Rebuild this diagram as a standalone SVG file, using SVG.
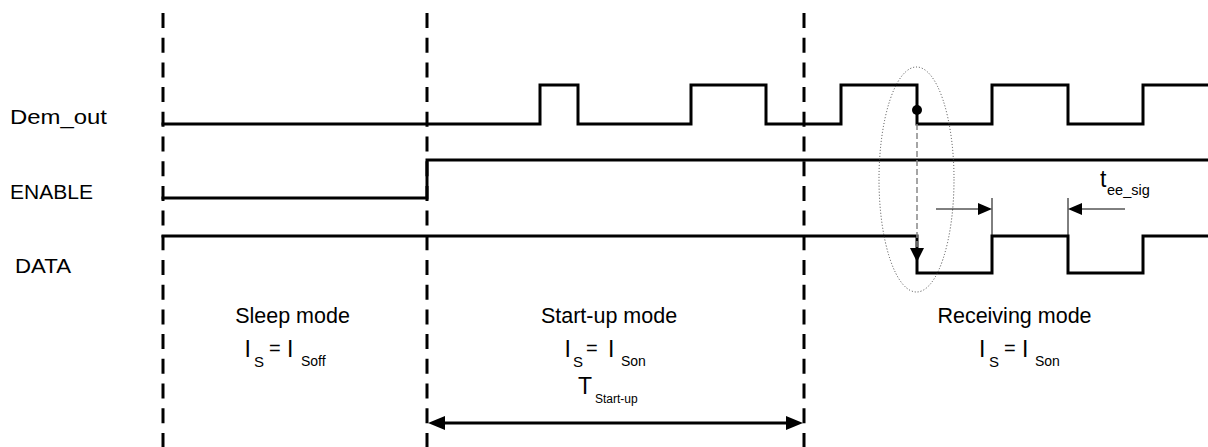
<svg xmlns="http://www.w3.org/2000/svg" width="1208" height="447" viewBox="0 0 1208 447">
<style>
text{font-family:"Liberation Sans",Arial,sans-serif;fill:#000}
.sig{fill:none;stroke:#000;stroke-width:3;stroke-linejoin:miter;stroke-linecap:square}
.div{stroke:#000;stroke-width:3;stroke-dasharray:15 9.7}
.thin{stroke:#000;stroke-width:1;fill:none}
.lbl{font-size:20px}
.mode{font-size:21.5px;text-anchor:middle}
.big{font-size:23px}
.eq{font-size:20px}
.sub1{font-size:15px}
.sub2{font-size:14px}
</style>
<defs>
<marker id="ah" markerUnits="userSpaceOnUse" markerWidth="17" markerHeight="14" viewBox="0 0 17 14" refX="5" refY="7" orient="auto-start-reverse">
<path d="M0,0 L17,7 L0,14 z" fill="#000"/>
</marker>
<marker id="ahs" markerUnits="userSpaceOnUse" markerWidth="14" markerHeight="12" viewBox="0 0 14 12" refX="2" refY="6" orient="auto">
<path d="M0,0 L14,6 L0,12 z" fill="#000"/>
</marker>
</defs>
<rect width="1208" height="447" fill="#fff"/>

<g id="dividers">
<line class="div" x1="163" y1="13" x2="163" y2="447"/>
<line class="div" x1="427" y1="13" x2="427" y2="447"/>
<line class="div" x1="804" y1="13" x2="804" y2="447"/>
</g>

<g id="dem_out">
<text class="lbl" x="10" y="124" textLength="97" lengthAdjust="spacingAndGlyphs">Dem_out</text>
<path class="sig" d="M163,124 H540 V85 H578 V124 H691 V85 H766 V124 H841 V85 H917 V124 H992 V85 H1068 V124 H1143 V85 H1209"/>
</g>

<g id="enable">
<text class="lbl" x="10" y="199" textLength="83" lengthAdjust="spacingAndGlyphs">ENABLE</text>
<path class="sig" d="M163,198 H427 V160 H1209"/>
</g>

<g id="data">
<text class="lbl" x="15" y="273" textLength="56" lengthAdjust="spacingAndGlyphs">DATA</text>
<path class="sig" d="M163,236 H917 V273 H992 V236 H1068 V273 H1143 V236 H1209"/>
</g>

<g id="sleep_mode">
<text class="mode" x="292.5" y="323">Sleep mode</text>
<text class="big" x="244.5" y="357">I</text>
<text class="sub1" x="254" y="366.5">S</text>
<text class="eq" x="269" y="355">=</text>
<text class="big" x="287" y="357">I</text>
<text class="sub2" x="301" y="366">Soff</text>
</g>

<g id="startup_mode">
<text class="mode" x="609" y="323">Start-up mode</text>
<text class="big" x="564.5" y="357">I</text>
<text class="sub1" x="573" y="366.5">S</text>
<text class="eq" x="586" y="355">=</text>
<text class="big" x="608" y="357">I</text>
<text class="sub2" x="621" y="366">Son</text>
<text class="big" x="578" y="394">T</text>
<text style="font-size:12px" x="595" y="403">Start-up</text>
</g>

<g id="receiving_mode">
<text class="mode" x="1014.5" y="323">Receiving mode</text>
<text class="big" x="979" y="357">I</text>
<text class="sub1" x="989" y="366.5">S</text>
<text class="eq" x="1004" y="355">=</text>
<text class="big" x="1022" y="357">I</text>
<text class="sub2" x="1035" y="366">Son</text>
</g>

<g id="tee_sig_label">
<text class="big" x="1100" y="187">t</text>
<text style="font-size:14.5px" x="1107" y="195">ee_sig</text>
</g>

<g id="connectors">
<ellipse cx="916.5" cy="179.5" rx="37.5" ry="112.5" fill="none" stroke="#444" stroke-width="1" stroke-dasharray="1 2"/>
<circle cx="917" cy="110" r="5" fill="#000"/>
<line x1="917" y1="124" x2="917" y2="250" stroke="#888" stroke-width="1.5" stroke-dasharray="6 3"/>
<polygon points="910,248 924,248 917,262" fill="#000"/>
<line x1="440" y1="423" x2="791" y2="423" stroke="#000" stroke-width="3" marker-start="url(#ah)" marker-end="url(#ah)"/>
<line class="thin" x1="992" y1="198" x2="992" y2="236"/>
<line class="thin" x1="1068" y1="198" x2="1068" y2="236"/>
<line class="thin" x1="936" y1="209" x2="980" y2="209" marker-end="url(#ahs)"/>
<line class="thin" x1="1125" y1="209" x2="1080" y2="209" marker-end="url(#ahs)"/>
</g>
</svg>
